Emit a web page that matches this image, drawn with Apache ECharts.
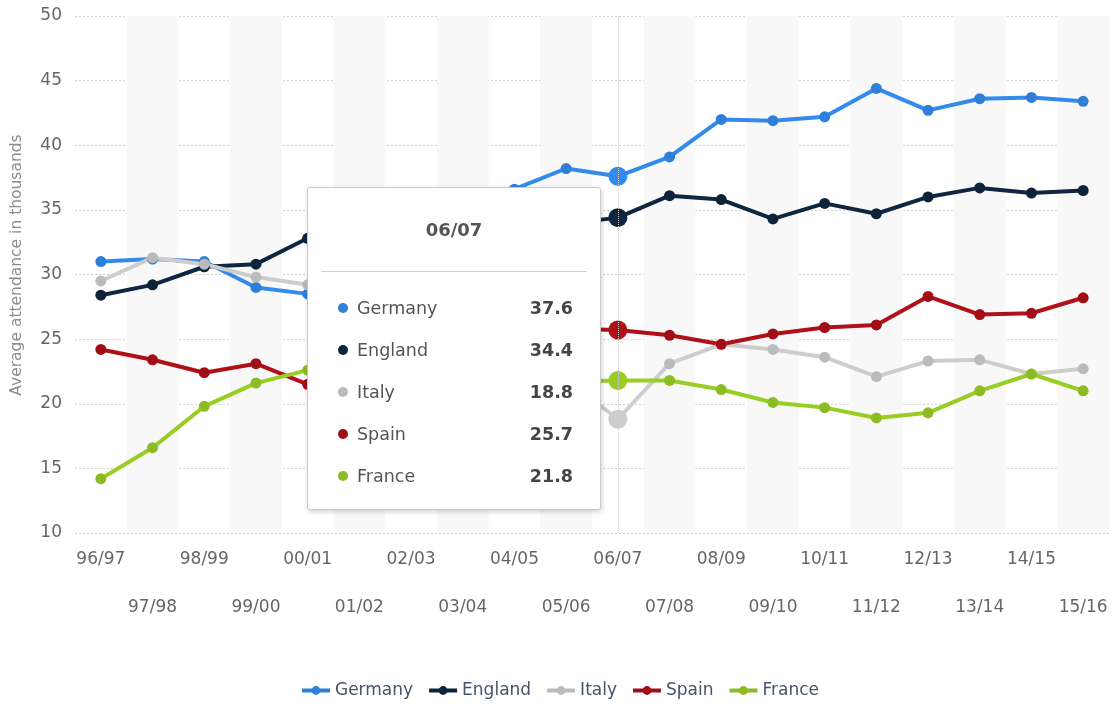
<!DOCTYPE html>
<html>
<head>
<meta charset="utf-8">
<title>Average attendance in Europe's top leagues</title>
<script src="https://cdn.jsdelivr.net/npm/echarts@6/dist/echarts.min.js"></script>
<style>
  html, body { margin: 0; padding: 0; background: #fff; }
  #chart { width: 1119px; height: 704px; }
</style>
</head>
<body>
<div id="chart"></div>
<script>
// Seasons on the category axis
const seasons = ['96/97', '97/98', '98/99', '99/00', '00/01', '01/02', '02/03', '03/04', '04/05', '05/06',
                 '06/07', '07/08', '08/09', '09/10', '10/11', '11/12', '12/13', '13/14', '14/15', '15/16'];

// Average attendance per league, in thousands
const germany = [31.0, 31.2, 31.0, 29.0, 28.5, 32.0, 33.2, 34.9, 36.6, 38.2,
                 37.6, 39.1, 42.0, 41.9, 42.2, 44.4, 42.7, 43.6, 43.7, 43.4];
const england = [28.4, 29.2, 30.6, 30.8, 32.8, 34.3, 35.4, 35.0, 33.9, 33.9,
                 34.4, 36.1, 35.8, 34.3, 35.5, 34.7, 36.0, 36.7, 36.3, 36.5];
const italy   = [29.5, 31.3, 30.8, 29.8, 29.2, 25.9, 25.5, 25.2, 25.4, 21.9,
                 18.8, 23.1, 24.6, 24.2, 23.6, 22.1, 23.3, 23.4, 22.3, 22.7];
const spain   = [24.2, 23.4, 22.4, 23.1, 21.5, 24.5, 26.0, 27.3, 26.6, 25.8,
                 25.7, 25.3, 24.6, 25.4, 25.9, 26.1, 28.3, 26.9, 27.0, 28.2];
const france  = [14.2, 16.6, 19.8, 21.6, 22.6, 21.5, 20.5, 19.9, 21.2, 21.7,
                 21.8, 21.8, 21.1, 20.1, 19.7, 18.9, 19.3, 21.0, 22.3, 21.0];

// Y axis ticks
const yTicks = { min: 10, max: 50, step: 5 };

const leagues = [
  { name: 'Germany', data: germany, color: '#2f7ed8' },
  { name: 'England', data: england, color: '#0d233a' },
  { name: 'Italy',   data: italy,   color: '#bbbbbb' },
  { name: 'Spain',   data: spain,   color: '#a00f15' },
  { name: 'France',  data: france,  color: '#8bbc21' }
];

const focusIndex = seasons.indexOf('06/07');
const FONT = "'DejaVu Sans', 'Liberation Sans', sans-serif";

const chart = echarts.init(document.getElementById('chart'), null, { renderer: 'canvas' });

function tooltipHtml(params) {
  const title = params[0].axisValue;
  let rows = '';
  params.forEach(function (p, i) {
    const top = 108 + 42 * i;
    rows +=
      '<div style="position:absolute;left:0;right:0;top:' + top + 'px;height:24px;line-height:24px;">' +
        '<span style="position:absolute;left:30px;top:7px;width:10px;height:10px;border-radius:5px;background:' + p.color + ';"></span>' +
        '<span style="position:absolute;left:49px;top:0;color:#555;">' + p.seriesName + '</span>' +
        '<span style="position:absolute;right:27px;top:0;color:#444;font-weight:bold;">' + p.value.toFixed(1) + '</span>' +
      '</div>';
  });
  return '<div style="position:relative;width:292px;height:321px;background:#ffffff;border-radius:3px;font-family:' + FONT + ';font-size:17.5px;">' +
           '<div style="position:absolute;left:0;right:0;top:30px;line-height:24px;text-align:center;font-weight:bold;color:#555;font-size:18px;">' + title + '</div>' +
           '<div style="position:absolute;left:13px;right:13px;top:83px;border-top:1px solid #cfcfcf;"></div>' +
           rows +
         '</div>';
}

const option = {
  animation: false,
  textStyle: { fontFamily: FONT },
  grid: { left: 75, right: 10, top: 16, bottom: 171, containLabel: false },
  legend: {
    bottom: 0,
    left: 'center',
    itemWidth: 28,
    itemHeight: 11,
    itemGap: 14,
    lineStyle: { width: 4 },
    textStyle: { color: '#44546a', fontSize: 17, fontFamily: FONT },
    data: leagues.map(function (l) { return l.name; })
  },
  tooltip: {
    trigger: 'axis',
    triggerOn: 'none',
    alwaysShowContent: true,
    transitionDuration: 0,
    padding: 0,
    borderWidth: 1,
    borderColor: '#c8c8c8',
    backgroundColor: '#ffffff',
    extraCssText: 'box-shadow: 1px 2px 5px rgba(0,0,0,0.18); border-radius: 3px; opacity: 1 !important; transition: none !important;',
    position: function () { return [307, 187]; },
    formatter: tooltipHtml,
    axisPointer: {
      type: 'line',
      lineStyle: { color: '#c8c8c8', width: 1, type: 'dotted' }
    }
  },
  graphic: [{
    type: 'text',
    x: 17,
    y: 265,
    rotation: Math.PI / 2,
    style: {
      text: 'Average attendance in thousands',
      fill: '#8c8c8c',
      font: '15.5px ' + FONT,
      align: 'center',
      verticalAlign: 'middle'
    }
  }],
  xAxis: {
    type: 'category',
    data: seasons,
    boundaryGap: true,
    axisLine: { show: false },
    axisTick: { show: false },
    axisLabel: {
      interval: 0,
      margin: 3,
      color: '#666',
      fontSize: 17,
      lineHeight: 48,
      formatter: function (value, index) { return index % 2 === 1 ? '\n' + value : value; }
    },
    splitLine: { show: false },
    splitArea: {
      show: true,
      interval: 0,
      areaStyle: { color: ['rgba(255,255,255,0)', '#f8f8f8'] }
    }
  },
  yAxis: {
    type: 'value',
    min: yTicks.min,
    max: yTicks.max,
    interval: yTicks.step,
    axisLine: { show: false },
    axisTick: { show: false },
    axisLabel: { color: '#666', fontSize: 17, margin: 13 },
    splitLine: { show: true, lineStyle: { color: '#d2d2d2', width: 1, type: [2, 2] } }
  },
  series: leagues.map(function (l) {
    return {
      name: l.name,
      type: 'line',
      data: l.data,
      color: l.color,
      symbol: 'circle',
      symbolSize: function (v, p) { return p.dataIndex === focusIndex ? 19 : 11; },
      lineStyle: { width: 4, color: l.color },
      itemStyle: { color: l.color },
      emphasis: { scale: false },
      z: 2
    };
  })
};

chart.setOption(option);

// Keep the tooltip open on the 06/07 season
chart.dispatchAction({ type: 'showTip', seriesIndex: 0, dataIndex: focusIndex });
</script>
</body>
</html>
